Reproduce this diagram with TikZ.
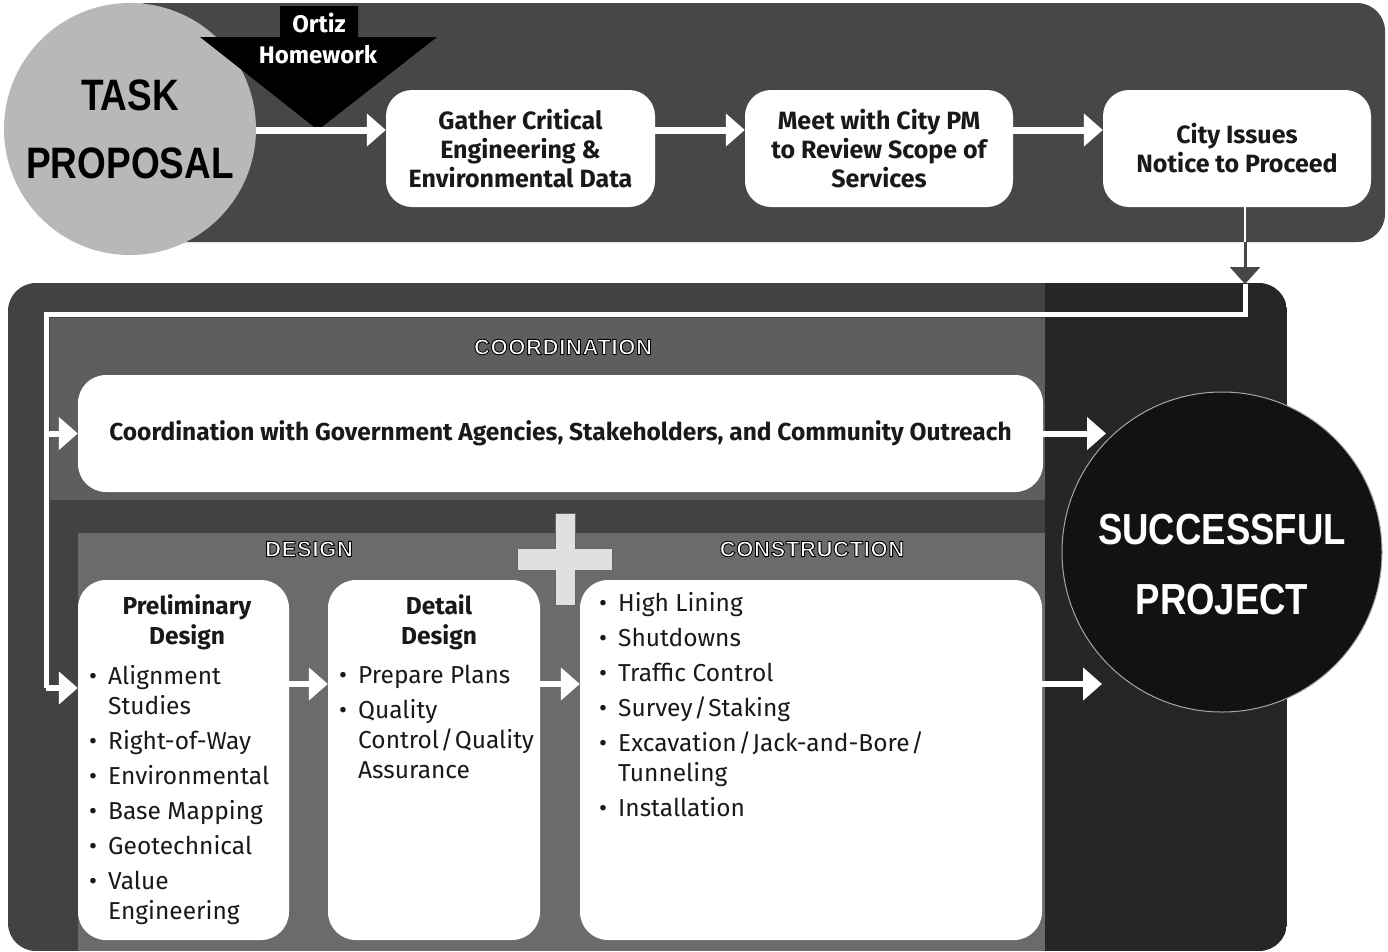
\documentclass[tikz,border=0pt]{standalone}
\usepackage{fontspec}
\setmainfont{Fira Sans}
\newfontfamily\hv[FakeStretch=0.84]{Liberation Sans}
\newfontfamily\hvw[LetterSpace=3]{Liberation Sans}
\usetikzlibrary{arrows.meta,calc}
\newcommand\bi{\makebox[19pt][l]{\textbullet}}
\newcommand\ind{\hspace*{19pt}}
\newcommand\slsep{\kern1.5pt/\kern1.5pt}
\newcommand\outl[1]{\special{pdf:literal direct 1 g 0 G 0.9 w 1 j 2 Tr}#1\special{pdf:literal direct 0 Tr 1 w 0 j}}
\begin{document}
\begin{tikzpicture}[x=1pt,y=-1pt,
  box/.style={fill=white, rounded corners=26pt, inner sep=0pt, align=center,
    font=\bfseries\fontsize{25}{29}\selectfont, text=black!90},
  listtext/.style={inner sep=0pt, align=left, anchor=north west,
    font=\fontsize{24.5}{30}\selectfont, text=black!90},
  head/.style={font=\bfseries\fontsize{24.5}{30}\selectfont, align=center, text=black!90, inner sep=0pt},
  sect/.style={font=\hvw\bfseries\fontsize{22}{24}\selectfont, inner sep=0pt, text=white},
  warrow/.style={draw=white, line width=7pt, -{Triangle[width=32pt,length=19pt]}},
  wline/.style={draw=white, line width=5pt},
  band/.style={fill=black!72},
]
\useasboundingbox (0,0) rectangle (1388,951);
\fill[white] (0,0) rectangle (1388,951);

% ---------- top band ----------
\fill[band, rounded corners=28pt] (120,3) rectangle (1385,242);

% lower panel
\begin{scope}
  \clip[rounded corners=28pt] (8,283) rectangle (1287,951);
  \fill[black!74] (8,283) rectangle (1045,951);
  \fill[black!85] (1045,283) rectangle (1287,951);
  \fill[black!63] (50,318) rectangle (1045,500);
  \fill[black!58] (78,533) rectangle (1045,951);
\end{scope}

% task proposal circle
\node[circle, minimum size=252pt, inner sep=0pt, fill=black!28,
  font=\hv\bfseries\fontsize{44}{68}\selectfont, align=center, text=black]
  (task) at (130,129) {TASK\\PROPOSAL};

% Ortiz homework arrow
\fill[black] (280,6) -- (358,6) -- (358,37) -- (437,37) -- (318,130)
  -- (200,37) -- (280,37) -- cycle;
\node[font=\bfseries\fontsize{24}{26}\selectfont, text=white, inner sep=0pt]
  (ortiz) at (319,23) {Ortiz};
\node[font=\bfseries\fontsize{24}{26}\selectfont, text=white, inner sep=0pt]
  (homework) at (318,55) {Homework};

% top boxes
\node[box, minimum width=269pt, minimum height=117pt] (gather) at (520.5,148.5)
  {Gather Critical\\Engineering \&\\Environmental Data};
\node[box, minimum width=268pt, minimum height=117pt] (meet) at (879,148.5)
  {Meet with City PM\\to Review Scope of\\Services};
\node[box, minimum width=268pt, minimum height=117pt] (city) at (1237,148.5)
  {City Issues\\Notice to Proceed};

\coordinate (row) at (0,130);
\draw[warrow] (task.east |- row) -- (gather.west |- row);
\draw[warrow] (gather.east |- row) -- (meet.west |- row);
\draw[warrow] (meet.east |- row) -- (city.west |- row);

% drop from city issues
\coordinate (d0) at ([xshift=8pt]city.south);
\coordinate (d1) at (1245,242);
\coordinate (d2) at (1245,284);
\draw[white, line width=2.5pt] (d0) -- (d1);
\draw[black!72, line width=3pt, -{Triangle[width=30pt,length=17pt]}] (d1) -- (d2);

% route in lower panel
\coordinate (r2) at (1245,314);
\coordinate (r3) at (46,314);
\coordinate (r4) at (46,688);
\draw[wline] (d2) -- (r2) -- (r3) -- (r4);

% section labels
\node[sect] (lcoord) at (563,347) {\outl{COORDINATION}};
\node[sect] (ldesign) at (309,549) {\outl{DESIGN}};
\node[sect] (lcons) at (812,549) {\outl{CONSTRUCTION}};

% coordination box
\node[box, rounded corners=28pt, minimum width=965pt, minimum height=117pt,
  font=\bfseries\fontsize{24.5}{29}\selectfont] (coord) at (560.5,433.5)
  {Coordination with Government Agencies, Stakeholders, and Community Outreach};

% plus sign
\fill[black!12, draw=black!60, line width=0.6pt]
  (555,513) -- (575,513) -- (575,548) -- (612,548) -- (612,570) -- (575,570)
  -- (575,605) -- (555,605) -- (555,570) -- (517,570) -- (517,548) -- (555,548) -- cycle;

% lower boxes
\node[box, rounded corners=28pt, minimum width=211pt, minimum height=360pt] (prelim) at (183.5,760) {};
\node[box, rounded corners=28pt, minimum width=212pt, minimum height=360pt] (detail) at (434,760) {};
\node[box, rounded corners=28pt, minimum width=462pt, minimum height=360pt] (cons) at (811,760) {};

\node[head] (prelimh) at (187,622) {Preliminary\\Design};
\node[head] (detailh) at (439,622) {Detail\\Design};

\node[listtext] (prelimlist) at (89,665) {%
  \bi Alignment\\ \ind Studies\\[5pt]
  \bi Right-of-Way\\[5pt]
  \bi Environmental\\[5pt]
  \bi Base Mapping\\[5pt]
  \bi Geotechnical\\[5pt]
  \bi Value\\ \ind Engineering};
\node[listtext] (detaillist) at (339,665) {%
  \bi Prepare Plans\\[5pt]
  \bi Quality\\ \ind Control\slsep Quality\\ \ind Assurance};
\node[listtext] (conslist) at (599,592) {%
  \bi High Lining\\[5pt]
  \bi Shutdowns\\[5pt]
  \bi Traffic Control\\[5pt]
  \bi Survey\slsep Staking\\[5pt]
  \bi Excavation\slsep Jack-and-Bore\slsep\\ \ind Tunneling\\[5pt]
  \bi Installation};

% successful project
\node[circle, minimum size=320pt, inner sep=0pt, fill=black!93, draw=black!35, line width=1pt]
  (succ) at (1222,552) {};
\node[font=\hv\bfseries\fontsize{43.5}{70}\selectfont, align=center, text=white, inner sep=0pt]
  (succtext) at (1222,565) {SUCCESSFUL\\PROJECT};

% arrows in lower panel
\coordinate (s1) at (1106,433.5);
\coordinate (s2) at (1102,684);
\draw[warrow, line width=6pt] (r3 |- coord.west) -- (coord.west);
\draw[warrow, line width=6pt] (r4) -- (r4 -| prelim.west);
\draw[warrow, line width=6pt] (coord.east) -- (s1);
\coordinate (lrow) at (0,684);
\draw[warrow, line width=6pt] (prelim.east |- lrow) -- (detail.west |- lrow);
\draw[warrow, line width=6pt] (detail.east |- lrow) -- (cons.west |- lrow);
\draw[warrow, line width=6pt] (cons.east |- s2) -- (s2);
\end{tikzpicture}
\end{document}
